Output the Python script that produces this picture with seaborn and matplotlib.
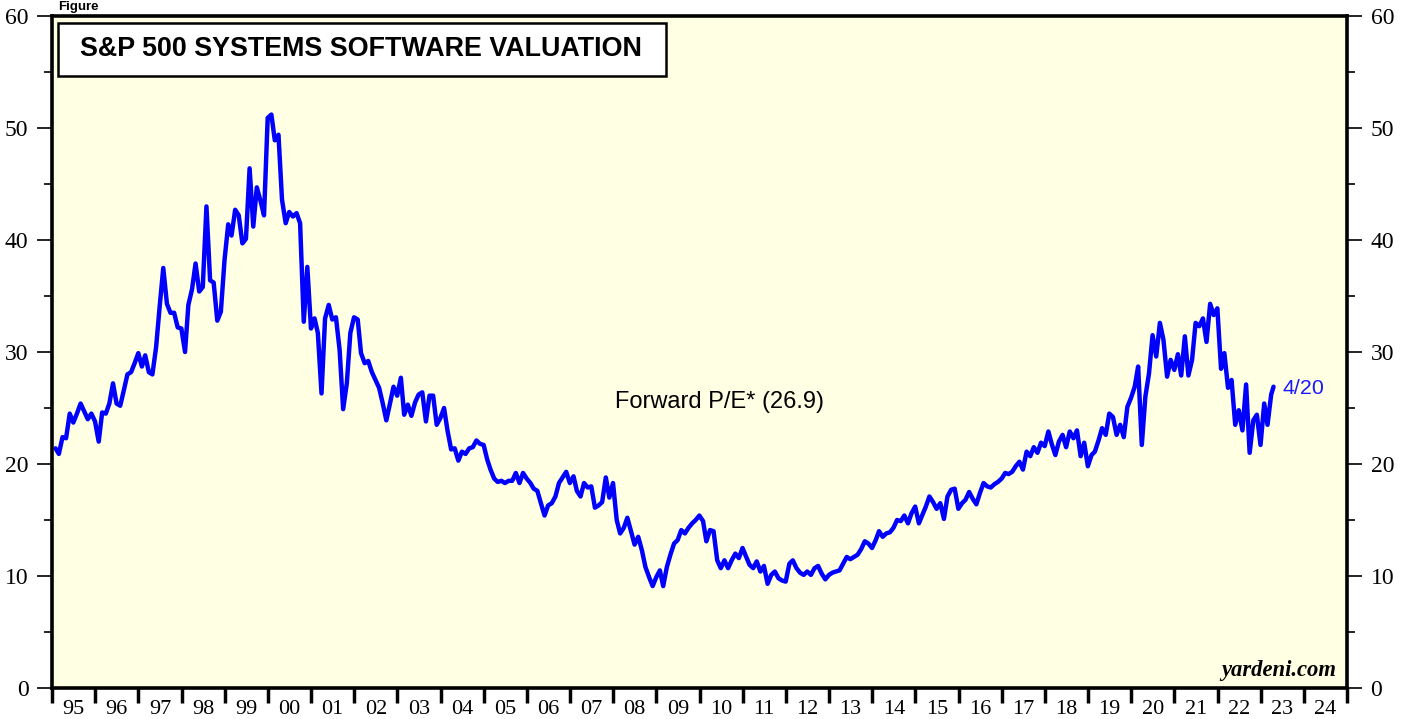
import matplotlib
matplotlib.use("Agg")
import matplotlib.pyplot as plt
from matplotlib.patches import Rectangle
import numpy as np
import pandas as pd
import seaborn as sns

# Forward P/E, month-end readings, Jan 1995 .. Apr 2023
pe_1995_1999 = [
    21.4, 20.9, 22.4, 22.3, 24.5, 23.7, 24.5, 25.4, 24.7, 24.0, 24.5, 23.8,
    22.0, 24.6, 24.5, 25.4, 27.2, 25.4, 25.2, 26.6, 28.0, 28.2, 29.0, 29.9,
    28.7, 29.7, 28.2, 28.0, 30.4, 34.0, 37.5, 34.3, 33.5, 33.5, 32.2, 32.1,
    30.0, 34.2, 35.6, 37.9, 35.4, 35.8, 43.0, 36.4, 36.2, 32.8, 33.6, 38.2,
    41.4, 40.4, 42.7, 42.2, 39.7, 40.1, 46.4, 41.2, 44.7, 43.5, 42.2, 50.9,
]
pe_2000_2004 = [
    51.2, 48.9, 49.4, 43.6, 41.5, 42.5, 42.1, 42.4, 41.5, 32.7, 37.6, 32.1,
    33.0, 31.7, 26.3, 33.0, 34.2, 32.9, 33.1, 30.2, 24.9, 27.2, 31.7, 33.1,
    32.9, 29.9, 29.0, 29.2, 28.2, 27.5, 26.8, 25.4, 23.9, 25.4, 26.9, 26.1,
    27.7, 24.4, 25.3, 24.3, 25.5, 26.2, 26.4, 23.8, 26.1, 26.1, 23.5, 24.1,
    25.0, 23.0, 21.3, 21.4, 20.3, 21.1, 20.9, 21.4, 21.5, 22.1, 21.8, 21.7,
]
pe_2005_2009 = [
    20.4, 19.5, 18.7, 18.4, 18.5, 18.3, 18.5, 18.5, 19.2, 18.3, 19.2, 18.7,
    18.3, 17.8, 17.6, 16.5, 15.4, 16.3, 16.5, 17.1, 18.3, 18.8, 19.3, 18.3,
    18.9, 17.6, 17.1, 18.3, 17.9, 18.0, 16.1, 16.3, 16.6, 18.8, 17.0, 18.3,
    15.0, 13.8, 14.3, 15.2, 14.0, 12.8, 13.5, 12.3, 10.8, 9.9, 9.1, 9.9,
    10.5, 9.1, 10.8, 11.9, 12.9, 13.2, 14.1, 13.8, 14.3, 14.7, 15.0, 15.4,
]
pe_2010_2014 = [
    14.9, 13.1, 14.1, 14.0, 11.4, 10.7, 11.4, 10.7, 11.4, 12.0, 11.6, 12.5,
    11.7, 11.0, 10.7, 11.3, 10.4, 10.9, 9.3, 10.1, 10.4, 9.8, 9.6, 9.5,
    11.1, 11.4, 10.7, 10.3, 10.1, 10.4, 10.1, 10.7, 10.9, 10.2, 9.7, 10.1,
    10.3, 10.4, 10.5, 11.1, 11.7, 11.5, 11.7, 11.9, 12.4, 13.1, 12.9, 12.5,
    13.2, 14.0, 13.5, 13.8, 13.9, 14.3, 15.0, 14.9, 15.4, 14.7, 15.6, 16.2,
]
pe_2015_2019 = [
    14.7, 15.4, 16.2, 17.1, 16.6, 16.0, 16.5, 15.1, 17.1, 17.7, 17.8, 16.0,
    16.5, 16.8, 17.5, 16.9, 16.4, 17.4, 18.3, 18.0, 17.9, 18.2, 18.4, 18.7,
    19.2, 19.1, 19.3, 19.8, 20.2, 19.5, 21.1, 20.7, 21.5, 21.0, 21.9, 21.6,
    22.9, 21.8, 20.8, 22.0, 22.6, 21.5, 22.9, 22.3, 23.0, 20.7, 21.9, 19.8,
    20.8, 21.1, 22.1, 23.2, 22.6, 24.5, 24.2, 22.6, 23.5, 22.4, 25.1, 25.9,
]
pe_2020_2023 = [
    26.9, 28.7, 21.7, 26.0, 28.1, 31.5, 29.6, 32.6, 31.1, 27.8, 29.3, 28.4,
    29.8, 27.9, 31.4, 27.9, 29.3, 32.6, 32.3, 33.0, 30.9, 34.3, 33.3, 33.9,
    28.5, 29.9, 26.8, 27.5, 23.5, 24.8, 23.0, 27.1, 21.0, 23.9, 24.4, 21.7,
    25.4, 23.5, 26.2, 26.9,
]
last_label = "4/20"
pe_label = "Forward P/E* (26.9)"
title = "S&P 500 SYSTEMS SOFTWARE VALUATION"
year_labels = [f"{y % 100:02d}" for y in range(1995, 2025)]

pe = (pe_1995_1999 + pe_2000_2004 + pe_2005_2009
      + pe_2010_2014 + pe_2015_2019 + pe_2020_2023)
dates = pd.date_range("1995-01-31", periods=len(pe), freq="ME")
dates = dates.where(dates < "2023-04-01", pd.Timestamp("2023-04-20"))
t = dates.year + (dates.dayofyear - 1) / 365.25
df = pd.DataFrame({"t": t, "pe": pe})

sns.set_style("ticks")
plt.rcParams["text.color"] = "black"
plt.rcParams["xtick.color"] = "black"
plt.rcParams["ytick.color"] = "black"
serif = ["Liberation Serif", "DejaVu Serif"]
sans = ["Liberation Sans", "DejaVu Sans"]

fig = plt.figure(figsize=(14.08, 7.19), dpi=100)
ax = fig.add_axes([52 / 1408, 31 / 719, 1295 / 1408, 672 / 719])
ax.set_facecolor("#FFFFE3")

sns.lineplot(data=df, x="t", y="pe", ax=ax, color="#0000FF", lw=3.2)

ax.set_xlim(1995, 2025)
ax.set_ylim(0, 60)
ax.set_xlabel("")
ax.set_ylabel("")

for s in ax.spines.values():
    s.set_linewidth(2.6)
    s.set_color("black")

# x: year boundaries as ticks, labels centred in each year
ax.set_xticks(np.arange(1995, 2026))
ax.set_xticklabels([])
ax.set_xticks(np.arange(1995, 2025) + 0.5, minor=True)
ax.set_xticklabels(year_labels, minor=True)
ax.tick_params(axis="x", which="major", direction="out", length=11, width=2.5,
               bottom=True, top=False)
ax.tick_params(axis="x", which="minor", length=0, pad=9, labelsize=16)

ax.set_yticks(np.arange(0, 61, 10))
ax.set_yticks(np.arange(5, 60, 10), minor=True)
ax.tick_params(axis="y", which="both", direction="out", left=True, right=True,
               width=1.2, colors="black")
ax.tick_params(axis="y", which="major", length=11, labelsize=17, pad=6,
               labelleft=True, labelright=True)
ax.tick_params(axis="y", which="minor", length=6)

for lab in ax.get_xticklabels(minor=True) + ax.yaxis.get_majorticklabels():
    lab.set_family(serif)
for tick in ax.yaxis.get_major_ticks():
    tick.label2.set_family(serif)

# title box
ax.add_patch(Rectangle((0.0046, 0.9107), 0.4695, 0.0789, transform=ax.transAxes,
                       facecolor="white", edgecolor="black", lw=1.8, zorder=5))
ax.text(0.0215, 0.9505, title, transform=ax.transAxes, ha="left", va="center",
        fontsize=19.4, fontweight="bold", family=sans, color="black", zorder=6)

ax.text(2010.47, 25.5, pe_label, ha="center", va="center", fontsize=17,
        family=sans, color="black")
ax.text(df["t"].iloc[-1] + 0.2, df["pe"].iloc[-1] - 0.2, last_label,
        ha="left", va="center", fontsize=15.4, family=sans, color="#1a1aff")
ax.text(0.992, 0.010, "yardeni.com", transform=ax.transAxes, ha="right",
        va="bottom", fontsize=16.3, fontweight="bold", fontstyle="italic",
        family=serif, color="black")

# heading above the frame (mostly cropped in the source image)
fig.text(58 / 1408, 0.999, "Figure", ha="left", va="top", fontsize=9.5,
         fontweight="bold", family=sans, color="black")

fig.savefig("out.png", dpi=100)
plt.close(fig)
